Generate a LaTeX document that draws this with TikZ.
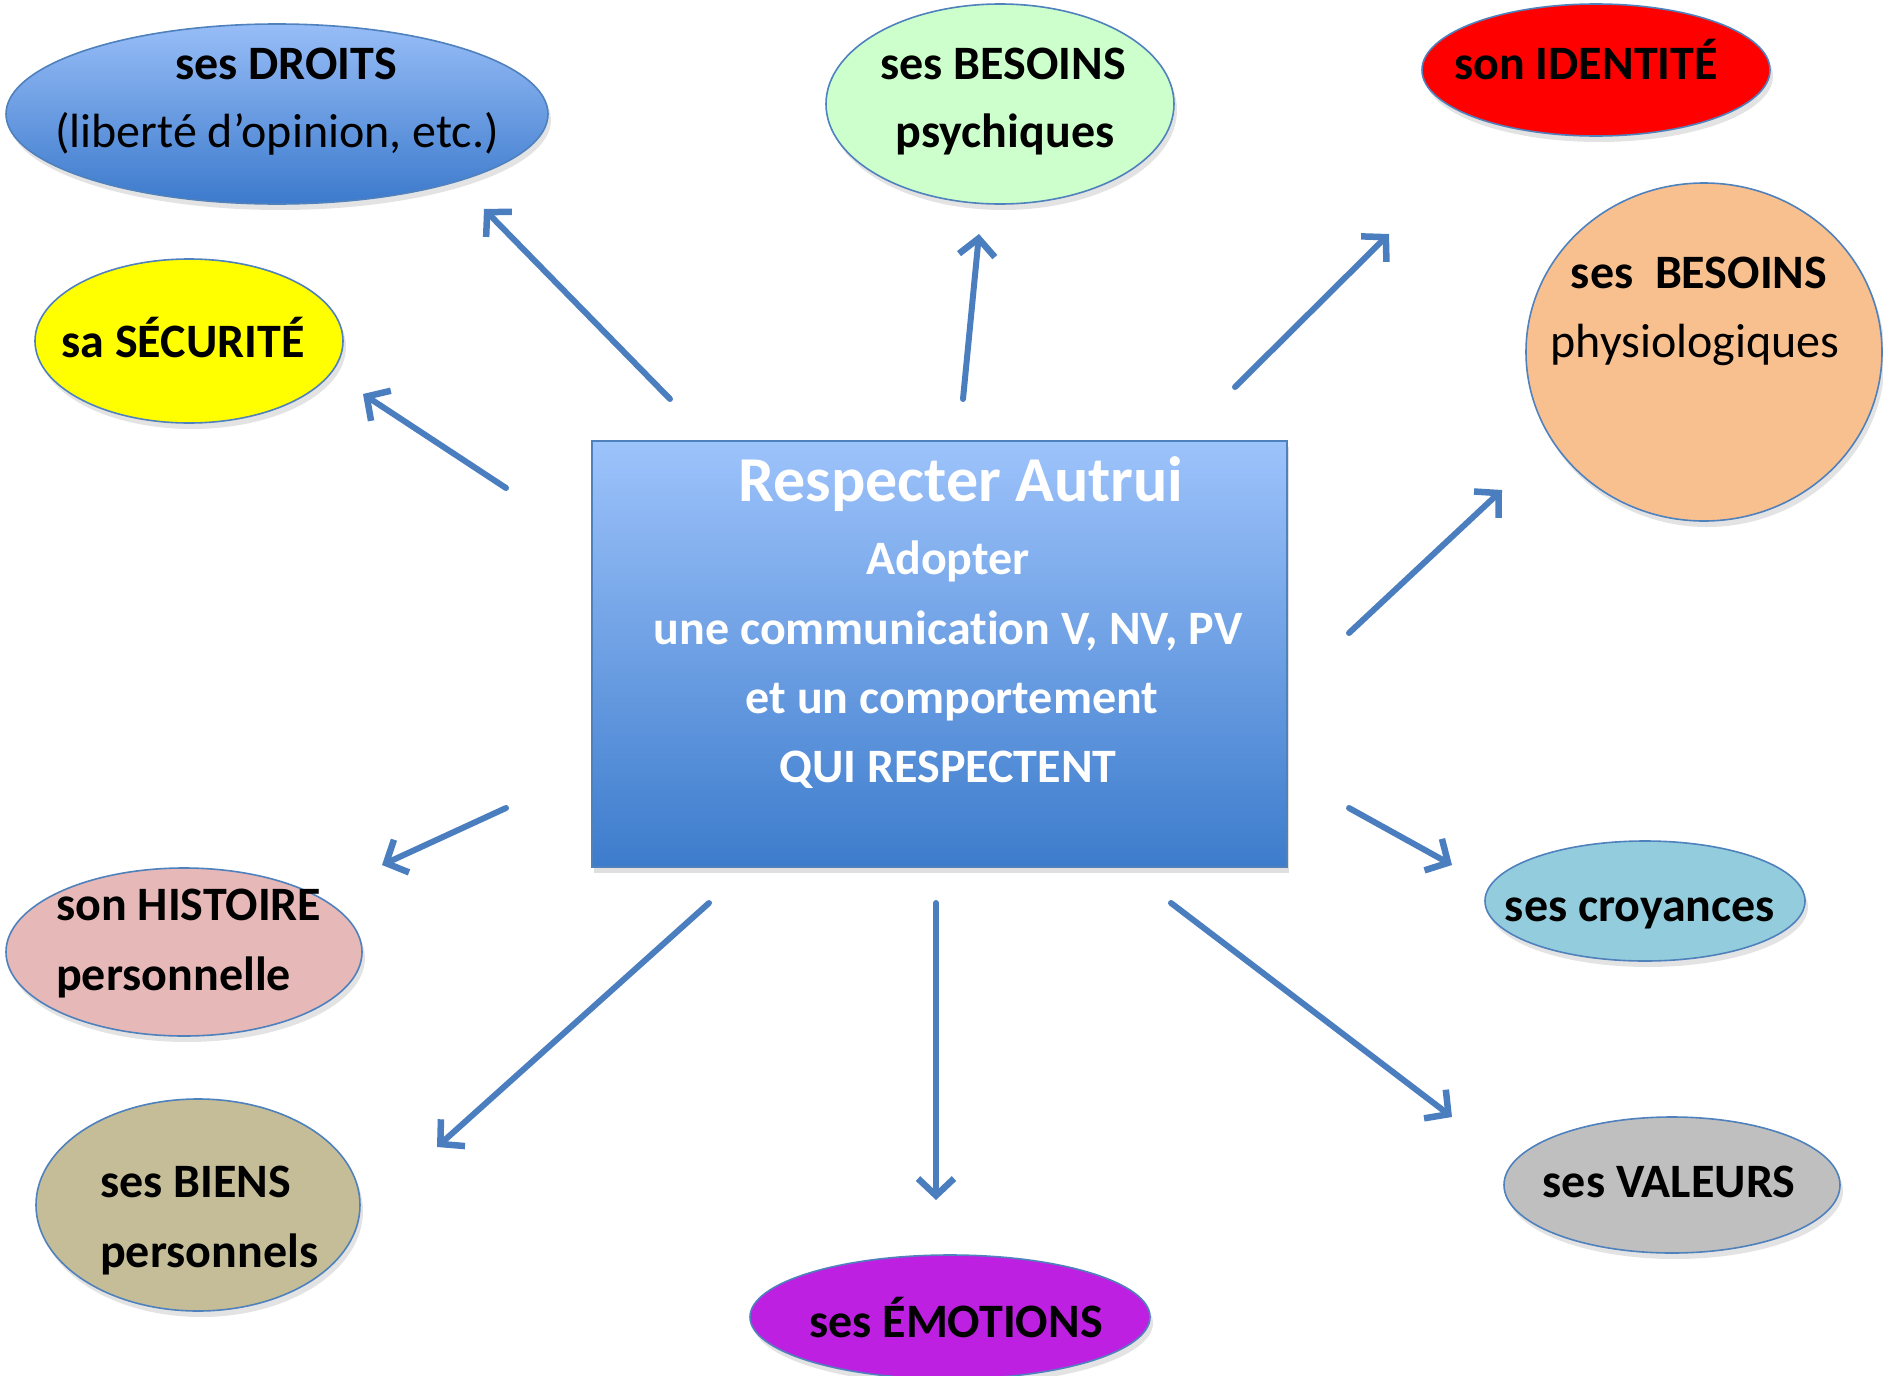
\documentclass[tikz,border=0pt]{standalone}
\usepackage{fontspec}
\setmainfont[Ligatures={NoCommon}]{Carlito}
\usetikzlibrary{shapes.geometric,arrows.meta,shadows}
\definecolor{edgeblue}{HTML}{4F81BD}
\definecolor{arrowblue}{HTML}{4A7EBF}
\definecolor{cgreen}{HTML}{CCFFCC}
\definecolor{cred}{HTML}{FF0000}
\definecolor{cyellow}{HTML}{FFFF00}
\definecolor{cpeach}{HTML}{F9C08F}
\definecolor{cpink}{HTML}{E6B8B7}
\definecolor{ccroy}{HTML}{93CDDD}
\definecolor{ctan}{HTML}{C4BD97}
\definecolor{cpurple}{HTML}{BE20E2}
\definecolor{cgray}{HTML}{BFBFBF}
\definecolor{btop}{HTML}{9DC3FB}
\definecolor{bbot}{HTML}{3D7CCC}
\definecolor{etop}{HTML}{97BDF7}
\definecolor{ebot}{HTML}{3C7ACC}
\tikzset{
  bubble/.style={ellipse, draw=edgeblue, line width=1.6pt, inner sep=0pt,
    drop shadow={shadow xshift=3pt, shadow yshift=-6pt, opacity=0.22}},
  lbl/.style={anchor=base, inner sep=0pt, text=black, font=\fontsize{48}{56}\selectfont\bfseries},
  lblr/.style={anchor=base, inner sep=0pt, text=black, font=\fontsize{48}{56}\selectfont},
  lbll/.style={lbl, anchor=base west},
  boxtxt/.style={anchor=base, inner sep=0pt, text=white, font=\fontsize{48}{56}\selectfont\bfseries},
  ray/.style={draw=arrowblue, line width=6pt, line cap=round, line join=round,
    -{Straight Barb[length=17pt, width=36pt, line width=6.5pt]}}
}
\begin{document}
\begin{tikzpicture}[x=1pt, y=-1pt]
\useasboundingbox (0,0) rectangle (1883,1376);

% central box
\node[rectangle, draw=edgeblue, line width=1.2pt, top color=btop, bottom color=bbot,
  minimum width=695pt, minimum height=426pt, inner sep=0pt,
  drop shadow={shadow xshift=2pt, shadow yshift=-6pt, opacity=0.25}] (box) at (939.5,654) {};
\node[boxtxt, font=\fontsize{64}{70}\selectfont\bfseries] (t1) at (961,501) {Respecter Autrui};
\node[boxtxt] (t2) at (948,574) {Adopter};
\node[boxtxt] (t3) at (948,644) {une communication V, NV, PV};
\node[boxtxt] (t4) at (952,713) {et un comportement};
\node[boxtxt] (t5) at (948,782) {QUI RESPECTENT};

% ellipses
\node[bubble, top color=etop, bottom color=ebot, minimum width=542pt, minimum height=180pt] (droits) at (277,114) {};
\node[bubble, fill=cgreen, minimum width=348pt, minimum height=200pt] (psy) at (1000,104) {};
\node[bubble, fill=cred, minimum width=348pt, minimum height=132pt] (ident) at (1596,70) {};
\node[bubble, fill=cyellow, minimum width=308pt, minimum height=164pt] (secu) at (189,341) {};
\node[bubble, fill=cpeach, minimum width=356pt, minimum height=338pt] (physio) at (1704,352) {};
\node[bubble, fill=cpink, minimum width=356pt, minimum height=168pt] (hist) at (184,952) {};
\node[bubble, fill=ccroy, minimum width=320pt, minimum height=120pt] (croy) at (1645,901) {};
\node[bubble, fill=ctan, minimum width=324pt, minimum height=212pt] (biens) at (198,1205) {};
\node[bubble, fill=cpurple, minimum width=400pt, minimum height=124pt] (emo) at (950,1317) {};
\node[bubble, fill=cgray, minimum width=336pt, minimum height=136pt] (val) at (1672,1185) {};

% labels
\node[lbl] (l1a) at (286,79) {ses DROITS};
\node[lblr] (l1b) at (277,147) {(liberté d’opinion, etc.)};
\node[lbl] (l2a) at (1003,79) {ses BESOINS};
\node[lbl] (l2b) at (1005,147) {psychiques};
\node[lbl] (l3) at (1586,79) {son IDENTITÉ};
\node[lbl] (l4) at (183,357) {sa SÉCURITÉ};
\node[lbl] (l5a) at (1699,288) {ses\ \ BESOINS};
\node[lblr] (l5b) at (1695,357) {physiologiques};
\node[lbll] (l6a) at (56,920) {son HISTOIRE};
\node[lbll] (l6b) at (56,990) {personnelle};
\node[lbl] (l7) at (1640,921) {ses croyances};
\node[lbll] (l8a) at (100,1197) {ses BIENS};
\node[lbll] (l8b) at (100,1267) {personnels};
\node[lbl] (l9) at (956,1337) {ses ÉMOTIONS};
\node[lbl] (l10) at (1669,1197) {ses VALEURS};

% arrow endpoints
\coordinate (a1s) at (670,399);  \coordinate (a1e) at (484,209);
\coordinate (a2s) at (963,399);  \coordinate (a2e) at (979,234);
\coordinate (a3s) at (1235,387); \coordinate (a3e) at (1389,234);
\coordinate (a4s) at (506,488);  \coordinate (a4e) at (363,394);
\coordinate (a5s) at (1349,633); \coordinate (a5e) at (1502,490);
\coordinate (a6s) at (506,808);  \coordinate (a6e) at (382,865);
\coordinate (a7s) at (1349,808); \coordinate (a7e) at (1452,865);
\coordinate (a8s) at (709,903);  \coordinate (a8e) at (437,1147);
\coordinate (a9s) at (936,903);  \coordinate (a9e) at (936,1200);
\coordinate (a10s) at (1171,903); \coordinate (a10e) at (1452,1117);

\draw[ray] (a1s) -- (a1e);
\draw[ray] (a2s) -- (a2e);
\draw[ray] (a3s) -- (a3e);
\draw[ray] (a4s) -- (a4e);
\draw[ray] (a5s) -- (a5e);
\draw[ray] (a6s) -- (a6e);
\draw[ray] (a7s) -- (a7e);
\draw[ray] (a8s) -- (a8e);
\draw[ray] (a9s) -- (a9e);
\draw[ray] (a10s) -- (a10e);
\end{tikzpicture}
\end{document}
